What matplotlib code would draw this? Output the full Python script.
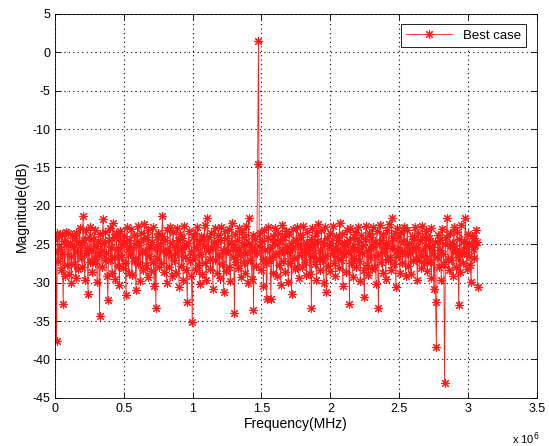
import numpy as np
import matplotlib
matplotlib.use('Agg')
import matplotlib.pyplot as plt

plt.rcParams['font.family'] = ['Liberation Sans', 'DejaVu Sans']
plt.rcParams['axes.unicode_minus'] = False

# 스펙트럼 크기 (dB), 0 ~ 3.07 MHz 구간을 균일 간격으로 읽은 값
F_MAX = 3.07e6
mag_db = [
    -26.0, -24.1, -37.6, -23.5, -27.2, -23.9, -25.6, -28.4, -23.7, -26.3, -32.8, -24.6, -29.1, -23.4, -25.0, -27.7,
    -23.6, -28.9, -24.8, -26.5, -30.1, -23.8, -25.3, -27.6, -24.2, -29.4, -23.5, -26.0, -28.2, -24.7, -22.9, -26.8,
    -25.1, -27.9, -21.3, -24.4, -29.7, -23.2, -26.1, -25.5, -31.5, -24.0, -27.3, -22.8, -25.8, -28.6, -24.3, -26.9,
    -23.1, -27.5, -25.2, -29.9, -24.6, -26.4, -34.3, -23.7, -25.9, -28.0, -21.7, -24.9, -27.1, -23.4, -26.2, -29.2,
    -32.2, -24.5, -22.9, -27.0, -25.4, -28.7, -22.2, -24.1, -26.6, -29.5, -23.6, -25.7, -27.8, -24.2, -30.3, -23.3,
    -26.7, -25.0, -28.1, -23.9, -24.8, -27.4, -31.6, -22.7, -25.6, -28.8, -24.4, -26.3, -23.0, -29.0, -25.3, -27.2,
    -23.8, -26.9, -31.0, -24.6, -22.6, -27.6, -25.1, -29.8, -23.5, -26.0, -28.3, -24.3, -22.4, -25.9, -27.7, -24.0,
    -29.3, -23.2, -26.5, -25.2, -28.5, -24.7, -22.8, -27.3, -30.5, -25.5, -33.3, -24.1, -26.8, -23.6, -28.0, -25.0,
    -27.5, -23.9, -21.3, -25.7, -28.6, -24.4, -26.2, -30.0, -23.1, -25.8, -27.9, -22.7, -26.4, -29.2, -24.8, -23.4,
    -27.0, -25.3, -28.8, -22.9, -26.1, -24.5, -30.6, -23.7, -25.6, -27.8, -24.2, -29.6, -22.6, -26.7, -25.1, -28.4,
    -32.5, -24.9, -23.3, -27.2, -25.9, -29.1, -35.1, -24.0, -26.6, -23.5, -28.3, -25.4, -22.8, -27.7, -24.6, -30.2,
    -23.9, -26.3, -28.9, -24.3, -25.2, -22.5, -27.4, -29.7, -21.6, -25.8, -24.1, -26.9, -28.2, -23.6, -25.5, -30.8,
    -24.7, -22.9, -27.1, -25.0, -28.7, -23.8, -26.5, -29.4, -24.4, -22.7, -27.6, -25.7, -31.2, -23.3, -26.0, -28.5,
    -24.2, -25.9, -23.0, -27.9, -29.8, -24.8, -22.2, -26.7, -25.3, -34.0, -23.7, -27.3, -24.5, -28.1, -25.6, -22.9,
    -26.4, -29.3, -23.4, -25.1, -27.5, -24.0, -28.8, -22.6, -26.2, -30.1, -21.6, -24.9, -27.0, -25.4, -29.5, -23.8,
    -33.5, -25.8, -24.3, -27.8, -26.1, -14.5, 1.5, -25.2, -23.5, -28.4, -24.6, -26.9, -30.4, -23.1, -25.7, -27.4,
    -32.1, -24.2, -22.8, -27.1, -25.5, -32.1, -26.6, -23.9, -28.7, -24.7, -22.9, -26.3, -29.1, -25.0, -23.6, -27.7,
    -24.4, -30.3, -25.9, -22.5, -27.2, -24.1, -28.6, -23.3, -26.0, -25.4, -29.9, -23.7, -27.5, -24.8, -31.5, -25.6,
    -23.0, -26.8, -28.2, -24.5, -22.7, -27.9, -25.1, -29.4, -23.8, -26.4, -24.0, -28.0, -22.6, -25.8, -27.3, -24.9,
    -29.0, -23.4, -26.2, -25.3, -28.9, -24.3, -33.3, -22.9, -26.6, -25.0, -27.6, -23.6, -29.6, -24.6, -22.4, -26.9,
    -25.7, -28.3, -23.2, -27.0, -24.7, -30.0, -22.8, -26.5, -31.2, -24.2, -27.8, -25.2, -23.5, -28.5, -24.9, -26.1,
    -22.6, -27.4, -25.5, -29.2, -23.9, -26.7, -24.4, -28.1, -22.3, -25.9, -27.1, -23.7, -30.5, -24.8, -26.3, -25.0,
    -28.6, -23.1, -26.0, -24.5, -32.8, -22.9, -27.5, -25.3, -29.3, -24.1, -26.8, -23.4, -28.0, -25.6, -22.7, -27.2,
    -24.6, -29.8, -23.8, -26.2, -25.1, -28.4, -31.9, -24.3, -22.6, -27.7, -25.8, -29.0, -23.5, -26.6, -24.0, -28.2,
    -22.8, -25.4, -27.9, -24.7, -30.2, -23.3, -26.4, -33.3, -25.0, -22.5, -27.3, -24.4, -28.8, -23.7, -26.0, -25.2,
    -29.5, -23.1, -27.0, -24.9, -22.4, -26.7, -28.3, -21.6, -25.5, -24.2, -27.6, -23.6, -30.6, -25.7, -22.9, -26.5,
    -24.1, -28.7, -23.4, -25.9, -27.4, -24.6, -22.7, -26.3, -29.1, -25.1, -23.2, -27.8, -24.8, -26.1, -28.9, -23.9,
    -25.6, -27.2, -24.3, -22.8, -26.9, -25.3, -29.7, -23.5, -27.0, -24.5, -26.4, -28.1, -22.6, -25.8, -27.5, -24.0,
    -26.8, -23.3, -28.5, -25.1, -24.2, -27.3, -22.9, -29.4, -25.4, -26.2, -30.8, -24.7, -32.5, -38.4, -26.6, -23.8,
    -28.0, -24.4, -25.7, -29.6, -23.0, -26.3, -27.6, -43.1, -25.0, -24.1, -21.6, -26.9, -28.4, -23.6, -25.2, -27.1,
    -24.8, -29.2, -22.7, -26.0, -25.5, -27.9, -23.4, -26.7, -32.9, -24.3, -28.6, -22.5, -25.9, -27.4, -24.6, -26.1,
    -21.6, -25.3, -28.2, -23.7, -26.5, -24.9, -27.7, -29.9, -23.9, -25.6, -24.2, -26.8, -25.1, -23.2, -24.7, -30.6,
]
freq = np.linspace(0, F_MAX, len(mag_db))

x_ticks = [0, 0.5e6, 1.0e6, 1.5e6, 2.0e6, 2.5e6, 3.0e6, 3.5e6]
x_labels = ['0', '0.5', '1', '1.5', '2', '2.5', '3', '3.5']
y_ticks = list(range(-45, 6, 5))

fig = plt.figure(figsize=(5.49, 4.46), dpi=100)
ax = fig.add_axes([0.100, 0.108, 0.878, 0.861])

# MATLAB 식 '*' 마커 (+ 와 x 를 겹친 8갈래 별표)
ax.plot(freq, mag_db, '-', marker=(8, 2, 0), color='#ff1a1a', lw=0.6,
        ms=6.5, mew=0.8, label='Best case')

ax.set_xlim(0, 3.5e6)
ax.set_ylim(-45, 5)
ax.set_xticks(x_ticks)
ax.set_xticklabels(x_labels)
ax.set_yticks(y_ticks)
ax.tick_params(direction='in', labelsize=9, length=4, width=0.6,
               top=True, right=True)
ax.grid(True, ls=(0, (1, 3)), color='k', lw=0.8)
ax.set_axisbelow(True)
for s in ax.spines.values():
    s.set_linewidth(0.6)

ax.set_xlabel('Frequency(MHz)', fontsize=10, labelpad=2)
ax.set_ylabel('Magnitude(dB)', fontsize=10, labelpad=2)
ax.text(1.006, -0.085, r'x 10$^6$', transform=ax.transAxes, fontsize=8,
        ha='right', va='top')

leg = ax.legend(loc='upper right', fontsize=9.5, fancybox=False,
                edgecolor='k', framealpha=1, borderaxespad=0.8,
                handlelength=3.5)
leg.get_frame().set_linewidth(0.6)

fig.savefig('out.png', dpi=100)
